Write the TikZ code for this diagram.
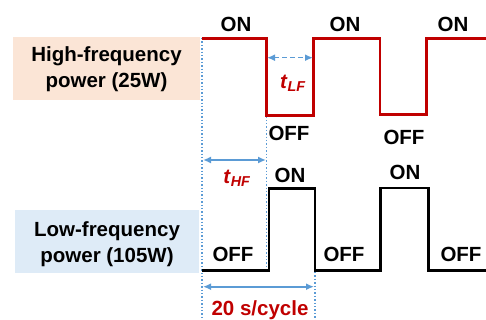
\documentclass[tikz,border=0pt]{standalone}
\usepackage{fontspec}
\setmainfont{Liberation Sans}
\usetikzlibrary{arrows.meta}
\definecolor{redw}{HTML}{C00000}
\definecolor{bluea}{HTML}{5B9BD5}
\definecolor{peach}{HTML}{FBE5D6}
\definecolor{lblue}{HTML}{DEEBF7}
\tikzset{
  lbl/.style={font=\fontsize{20.5}{24}\selectfont\bfseries, inner sep=0pt},
  rlbl/.style={lbl, text=redw},
  boxlbl/.style={font=\fontsize{20.5}{26}\selectfont\bfseries, align=center, inner sep=0pt},
  guide/.style={bluea, line width=1.4pt, dotted},
  dim/.style={bluea, line width=1.6pt, {Latex[length=8pt,width=7pt]}-{Latex[length=8pt,width=7pt]}},
  hwave/.style={redw, line width=2.2pt},
  lwave/.style={black, line width=2.2pt},
}
\begin{document}
\begin{tikzpicture}[x=1pt,y=-1pt]
\useasboundingbox (0,0) rectangle (486,320);
% boxes
\fill[peach] (13,37) rectangle (200,100);
\fill[lblue] (15,210) rectangle (199,273);
\node[boxlbl] (hf) at (106.5,69) {High-frequency\\power (25W)};
\node[boxlbl] (lf) at (107,244) {Low-frequency\\power (105W)};
% guides
\coordinate (g1t) at (202,38);
\coordinate (g1b) at (202,320);
\coordinate (g2t) at (266.5,38);
\coordinate (g2b) at (266.5,270);
\coordinate (g3t) at (315,272);
\coordinate (g3b) at (315,320);
\draw[guide] (g1t) -- (g1b);
\draw[guide] (g2t) -- (g2b);
\draw[guide] (g3t) -- (g3b);
% waveforms
\draw[hwave] (202,38.5) -- (266.5,38.5) -- (266.5,115.5) -- (313.5,115.5) -- (313.5,38.5) -- (380,38.5) -- (380,114.5) -- (426.5,114.5) -- (426.5,38.5) -- (486,38.5);
\draw[lwave] (202,270.5) -- (269,270.5) -- (269,188.5) -- (315,188.5) -- (315,270.5) -- (380.5,270.5) -- (380.5,188) -- (428.5,188) -- (428.5,270.5) -- (486,270.5);
% dimension arrows
\coordinate (a1) at (267,57.7);
\coordinate (a2) at (313,57.7);
\draw[dim, dash pattern=on 5pt off 3pt] (a1) -- (a2);
\coordinate (b1) at (203,160);
\coordinate (b2) at (266,160);
\draw[dim] (b1) -- (b2);
\coordinate (c1) at (203,286.7);
\coordinate (c2) at (314,286.7);
\draw[dim] (c1) -- (c2);
% labels
\node[lbl] (on1) at (236,24) {ON};
\node[lbl] (on2) at (345,24) {ON};
\node[lbl] (on3) at (453,24) {ON};
\node[lbl] (off1) at (289,133.5) {OFF};
\node[lbl] (off2) at (404,137) {OFF};
\node[lbl] (on4) at (290,175) {ON};
\node[lbl] (on5) at (405,172) {ON};
\node[lbl] (off3) at (233,254) {OFF};
\node[lbl] (off4) at (344,254) {OFF};
\node[lbl] (off5) at (461,254) {OFF};
\node[rlbl] (tlf) at (293,83) {\textit{t}\textsubscript{\textit{LF}}};
\node[rlbl] (thf) at (237,178) {\textit{t}\textsubscript{\textit{HF}}};
\node[rlbl] (cyc) at (260,310) {20 s/cycle};
\end{tikzpicture}
\end{document}
